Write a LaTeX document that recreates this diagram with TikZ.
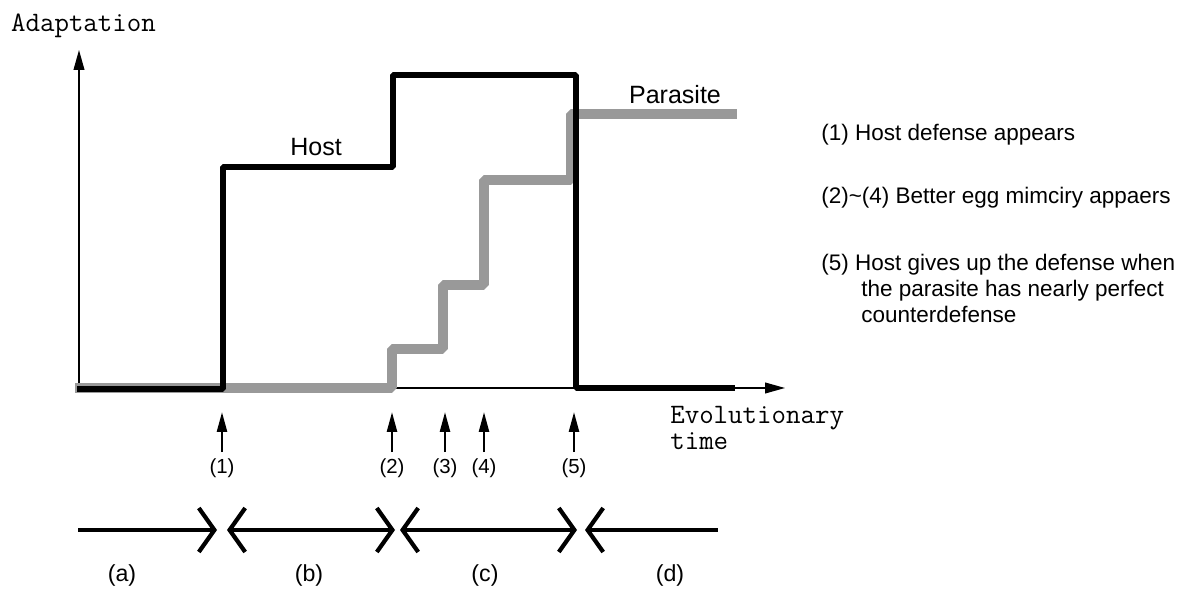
\documentclass[tikz,border=0pt]{standalone}
\usepackage{fontspec}
\setmainfont{Liberation Sans}
\usetikzlibrary{arrows.meta}
\definecolor{parasitegray}{RGB}{153,153,153}
\tikzset{
	axis/.style={line width=1pt, -{Triangle[length=5mm,width=2.7mm]}},
	hostline/.style={line width=4.6pt, line join=bevel},
	parasiteline/.style={line width=7.5pt, color=parasitegray, line join=bevel},
	evtarrow/.style={line width=1.8pt, -{Triangle[length=5mm,width=2.5mm]}},
	evtlabel/.style={inner sep=0pt, minimum height=0.8cm, anchor=north, font=\fontsize{14.5}{17}\selectfont},
	phase/.style={line width=3pt, >={Straight Barb[length=3.9mm,width=11mm]}},
	phaselabel/.style={inner sep=0pt, font=\fontsize{16.5}{19}\selectfont},
	curvelabel/.style={inner sep=0pt, anchor=base, font=\fontsize{17.8}{20}\selectfont},
	note/.style={inner sep=0pt, anchor=base west, font=\fontsize{16}{18.5}\selectfont},
	axislabel/.style={inner sep=0pt, font=\ttfamily\fontsize{20}{18.5}\selectfont}
}

\begin{document}
\begin{tikzpicture}
			%%%%% START %%%%%
			\useasboundingbox (0, 0) rectangle (29.625, 14.75);
			
			% axes
			\coordinate (O) at (1.975, 5.05);
			\coordinate (ytip) at (1.975, 13.5);
			\coordinate (xtip) at (19.625, 5.05);
			\draw[axis] (O) -- (ytip);
			\draw[axis] (O) -- (xtip);
			\node[axislabel, anchor=base west] (ylab) at (0.27, 13.96) {Adaptation};
			\node[axislabel, anchor=north west, align=left] (xlab) at (16.75, 4.6) {Evolutionary\\time};
			
			% parasite, then host on top
			\draw[parasiteline] (1.875, 5.05) -- (9.8, 5.05) -- (9.8, 6.025) -- (11.075, 6.025) -- (11.075, 7.625)
				-- (12.1, 7.625) -- (12.1, 10.25) -- (14.275, 10.25) -- (14.275, 11.9) -- (18.425, 11.9);
			\draw[hostline] (1.925, 5.025) -- (5.575, 5.025) -- (5.575, 10.575) -- (9.825, 10.575) -- (9.825, 12.875)
				-- (14.4, 12.875) -- (14.4, 5.05) -- (18.375, 5.05);
			\node[curvelabel] (host) at (7.9, 10.85) {Host};
			\node[curvelabel] (parasite) at (16.875, 12.15) {Parasite};
			
			% events
			\coordinate (t1) at (5.55, 4.45);
			\coordinate (t2) at (9.8, 4.45);
			\coordinate (t3) at (11.125, 4.45);
			\coordinate (t4) at (12.1, 4.45);
			\coordinate (t5) at (14.35, 4.45);
			\node[evtlabel] (e1) at (5.55, 3.45) {(1)};
			\node[evtlabel] (e2) at (9.8, 3.45) {(2)};
			\node[evtlabel] (e3) at (11.125, 3.45) {(3)};
			\node[evtlabel] (e4) at (12.1, 3.45) {(4)};
			\node[evtlabel] (e5) at (14.35, 3.45) {(5)};
			\draw[evtarrow] (e1) -- (t1);
			\draw[evtarrow] (e2) -- (t2);
			\draw[evtarrow] (e3) -- (t3);
			\draw[evtarrow] (e4) -- (t4);
			\draw[evtarrow] (e5) -- (t5);
			
			% phases
			\coordinate (p0) at (1.95, 1.5);
			\coordinate (p1) at (5.425, 1.5);
			\coordinate (p2) at (5.675, 1.5);
			\coordinate (p3) at (9.875, 1.5);
			\coordinate (p4) at (10.0, 1.5);
			\coordinate (p5) at (14.425, 1.5);
			\coordinate (p6) at (14.625, 1.5);
			\coordinate (p7) at (17.95, 1.5);
			\draw[phase, ->] (p0) -- (p1);
			\draw[phase, <->] (p2) -- (p3);
			\draw[phase, <->] (p4) -- (p5);
			\draw[phase, <-] (p6) -- (p7);
			\node[phaselabel] (pa) at (3.05, 0.375) {(a)};
			\node[phaselabel] (pb) at (7.725, 0.375) {(b)};
			\node[phaselabel] (pc) at (12.125, 0.375) {(c)};
			\node[phaselabel] (pd) at (16.75, 0.375) {(d)};
			
			% notes
			\node[note] (n1) at (20.525, 11.225) {(1) Host defense appears};
			\node[note] (n2) at (20.525, 9.65) {(2)\textasciitilde(4) Better egg mimciry appaers};
			\node[note, anchor=north west, align=left] (n5) at (20.525, 8.39) {(5) Host gives up the defense when\\
				\hspace*{1.0cm}the parasite has nearly perfect\\
				\hspace*{1.0cm}counterdefense};
			
			%%%%% END %%%%%
\end{tikzpicture}
\end{document}
